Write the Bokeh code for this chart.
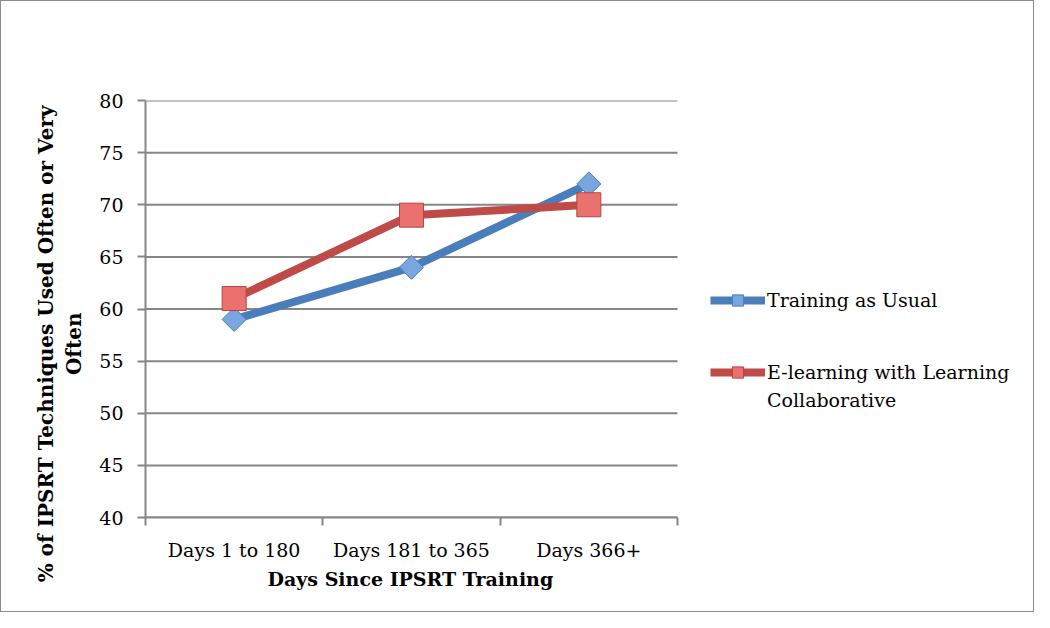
import numpy as np
from bokeh.plotting import figure
from bokeh.models import FixedTicker, Legend, LegendItem, Range1d, ColumnDataSource, Title
from bokeh.embed import file_html
from bokeh.resources import INLINE

categories = ["Days 1 to 180", "Days 181 to 365", "Days 366+"]
tau = [59, 64, 72]
elearn = [61, 69, 70]
y_ticks = [40, 45, 50, 55, 60, 65, 70, 75, 80]

FONT = "DejaVu Serif"
FS = "19px"
W, H = 1034, 612
LEFT = 144
PLOT_W = 532  # pixel width of the category area
n = len(categories)
xpos = [i + 0.5 for i in range(n)]
x_end = (W - LEFT) / (PLOT_W / n)  # extra room on the right holds the legend

p = figure(width=W, height=H, output_backend="svg", toolbar_location=None,
           x_range=Range1d(0, x_end), y_range=Range1d(40, 80))
p.min_border_left = LEFT
p.min_border_right = 0
p.min_border_top = 99
p.min_border_bottom = 96
p.outline_line_color = None
p.background_fill_color = "white"
p.border_fill_color = "white"
p.styles = {"border": "1px solid #8c8c8c"}

# horizontal gridlines limited to the category area
p.xgrid.grid_line_color = None
p.ygrid.grid_line_color = None
p.segment(x0=[0] * len(y_ticks), x1=[n] * len(y_ticks), y0=y_ticks, y1=y_ticks,
          line_color="#868686", line_width=2, level="underlay")

src1 = ColumnDataSource(dict(x=xpos, y=tau))
src2 = ColumnDataSource(dict(x=xpos, y=elearn))

l1 = p.line("x", "y", source=src1, line_color="#4A7EBB", line_width=8)
s1 = p.scatter("x", "y", source=src1, marker="square", angle=np.pi / 4, size=17,
               fill_color="#79A6DE", line_color="#4A7EBB", line_width=1)
l2 = p.line("x", "y", source=src2, line_color="#BE4B48", line_width=8)
s2 = p.scatter("x", "y", source=src2, marker="square", size=24,
               fill_color="#EA716E", line_color="#B8433F", line_width=1)

# axes
xa = p.xaxis[0]
xa.bounds = (0, n)
xa.ticker = FixedTicker(ticks=xpos, minor_ticks=list(range(n + 1)))
xa.major_label_overrides = {x: c for x, c in zip(xpos, categories)}
xa.major_tick_out = 0
xa.major_tick_in = 0
xa.minor_tick_out = 8
xa.minor_tick_in = 0
xa.minor_tick_line_color = "#868686"
xa.minor_tick_line_width = 2
xa.axis_line_color = "#868686"
xa.axis_line_width = 2
xa.major_label_text_font = FONT
xa.major_label_text_font_size = FS
xa.major_label_text_color = "#000000"
xa.major_label_standoff = 13

xtitle = Title(text="Days Since IPSRT Training", align="left", offset=122,
               text_font=FONT, text_font_style="bold", text_font_size=FS,
               text_color="#000000", standoff=4)
p.add_layout(xtitle, "below")

# axis label is centered lower than the plot centre in the original
pad = "\u00a0" * 10
ya = p.yaxis[0]
ya.ticker = FixedTicker(ticks=y_ticks)
ya.major_tick_out = 8
ya.major_tick_in = 0
ya.minor_tick_out = 0
ya.minor_tick_in = 0
ya.major_tick_line_color = "#868686"
ya.major_tick_line_width = 2
ya.axis_line_color = "#868686"
ya.axis_line_width = 2
ya.major_label_text_font = FONT
ya.major_label_text_font_size = FS
ya.major_label_text_color = "#000000"
ya.major_label_standoff = 14
ya.axis_label = "% of IPSRT Techniques Used Often or Very" + pad + "\nOften" + pad
ya.axis_label_text_font = FONT
ya.axis_label_text_font_style = "bold"
ya.axis_label_text_font_size = "20px"
ya.axis_label_text_color = "#000000"
ya.axis_label_standoff = 10


def style_legend(lg):
    lg.border_line_color = None
    lg.background_fill_alpha = 0
    lg.padding = 0
    lg.margin = 0
    lg.spacing = 0
    lg.glyph_width = 55
    lg.glyph_height = 28
    lg.label_height = 20
    lg.label_standoff = 2
    lg.label_text_font = FONT
    lg.label_text_font_size = FS
    lg.label_text_color = "#000000"
    return lg


legA = style_legend(Legend(items=[
    LegendItem(label="Training as Usual", renderers=[l1, s1]),
], location=(565, 203)))
legB = style_legend(Legend(items=[
    LegendItem(label="E-learning with Learning", renderers=[l2, s2]),
    LegendItem(label="Collaborative", renderers=[]),
], location=(565, 103)))
p.add_layout(legA)
p.add_layout(legB)

open("out.html", "w").write(file_html(p, INLINE))
